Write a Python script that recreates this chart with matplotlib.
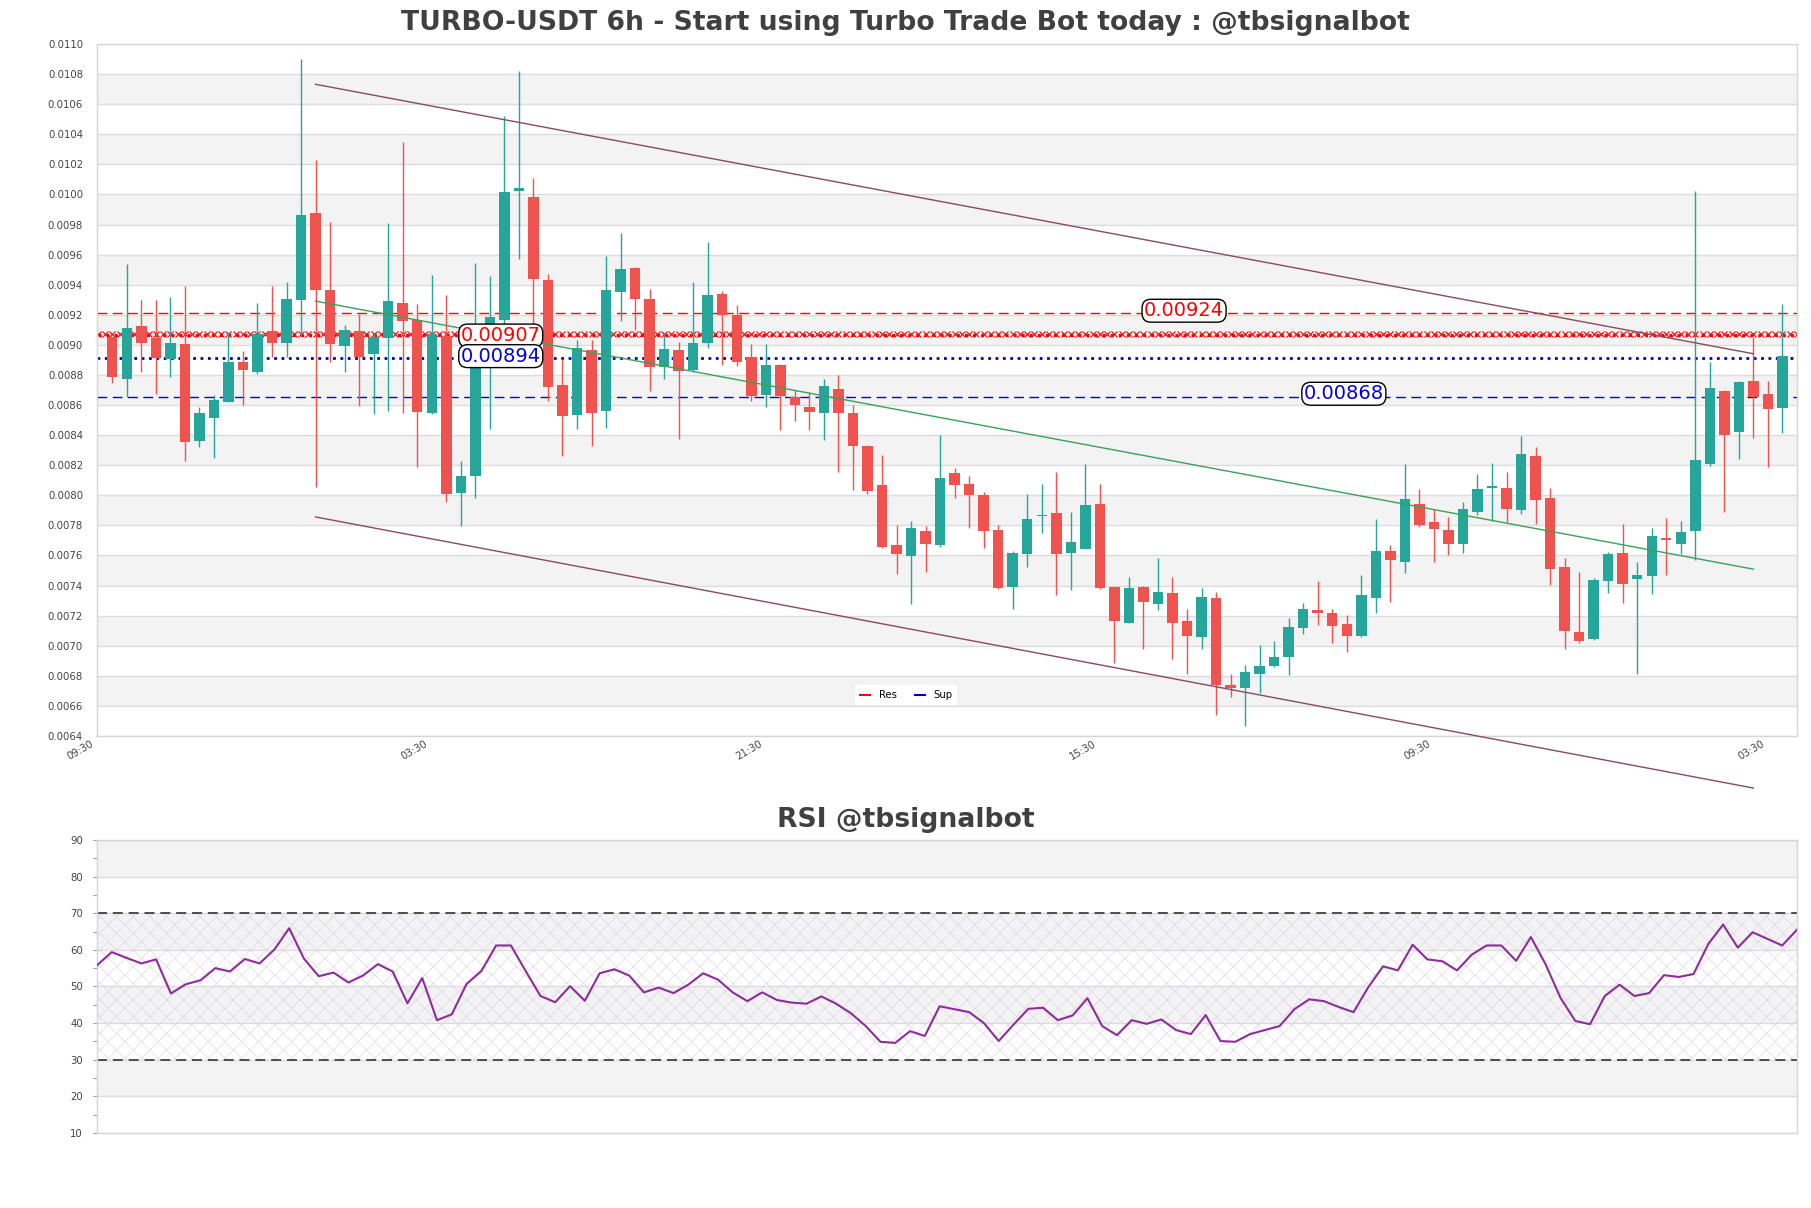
import numpy as np
import matplotlib
matplotlib.use('Agg')
import matplotlib.pyplot as plt
from matplotlib.lines import Line2D
from matplotlib.transforms import ScaledTranslation

# 6h candles
OPEN = [0.009050, 0.008770, 0.009127, 0.009043, 0.008904, 0.009006, 0.008362, 0.008514, 0.008621, 0.008883,
        0.008822, 0.009090, 0.009014, 0.009300, 0.009876, 0.009364, 0.008992, 0.009090, 0.008941, 0.009044,
        0.009276, 0.009163, 0.008548, 0.009059, 0.008014, 0.008130, 0.008867, 0.009166, 0.010025, 0.009980,
        0.009434, 0.008730, 0.008534, 0.008968, 0.008560, 0.009349, 0.009513, 0.009306, 0.008852, 0.008968,
        0.008831, 0.009010, 0.009340, 0.009200, 0.008922, 0.008670, 0.008867, 0.008654, 0.008590, 0.008548,
        0.008709, 0.008548, 0.008325, 0.008066, 0.007667, 0.007597, 0.007765, 0.007670, 0.008149, 0.008075,
        0.008000, 0.007770, 0.007391, 0.007612, 0.007862, 0.007884, 0.007618, 0.007643, 0.007945, 0.007391,
        0.007153, 0.007391, 0.007277, 0.007351, 0.007162, 0.007055, 0.007315, 0.006736, 0.006721, 0.006812,
        0.006864, 0.006925, 0.007116, 0.007238, 0.007217, 0.007143, 0.007064, 0.007320, 0.007628, 0.007558,
        0.007945, 0.007824, 0.007770, 0.007678, 0.007886, 0.008050, 0.008046, 0.007903, 0.008258, 0.007985,
        0.007521, 0.007092, 0.007046, 0.007430, 0.007618, 0.007445, 0.007461, 0.007715, 0.007679, 0.007763,
        0.008206, 0.008694, 0.008418, 0.008761, 0.008676, 0.008579]
HIGH = [0.009055, 0.009539, 0.009300, 0.009300, 0.009315, 0.009391, 0.008584, 0.008670, 0.009080, 0.008960,
        0.009276, 0.009391, 0.009416, 0.010900, 0.010232, 0.009818, 0.009130, 0.009203, 0.009080, 0.009812,
        0.010351, 0.009270, 0.009462, 0.009331, 0.008228, 0.009544, 0.009455, 0.010522, 0.010823, 0.010107,
        0.009470, 0.008904, 0.009035, 0.009035, 0.009593, 0.009745, 0.009520, 0.009370, 0.009080, 0.009020,
        0.009416, 0.009684, 0.009360, 0.009263, 0.009005, 0.009005, 0.008870, 0.008700, 0.008685, 0.008770,
        0.008800, 0.008600, 0.008335, 0.008267, 0.007800, 0.007826, 0.007795, 0.008404, 0.008180, 0.008131,
        0.008020, 0.007800, 0.007630, 0.008006, 0.008076, 0.008158, 0.007887, 0.008206, 0.008076, 0.007400,
        0.007458, 0.007400, 0.007582, 0.007460, 0.007247, 0.007382, 0.007360, 0.006812, 0.006870, 0.007003,
        0.007033, 0.007186, 0.007284, 0.007430, 0.007247, 0.007207, 0.007467, 0.007840, 0.007670, 0.008206,
        0.008040, 0.007910, 0.007855, 0.007954, 0.008140, 0.008212, 0.008158, 0.008394, 0.008319, 0.008046,
        0.007582, 0.007488, 0.007452, 0.007625, 0.007806, 0.007558, 0.007785, 0.007847, 0.007830, 0.010025,
        0.008883, 0.008700, 0.008761, 0.009055, 0.008761, 0.009273]
LOW = [0.008746, 0.008655, 0.008822, 0.008676, 0.008785, 0.008227, 0.008319, 0.008249, 0.008620, 0.008600,
       0.008807, 0.008922, 0.008922, 0.009065, 0.008057, 0.008883, 0.008822, 0.008593, 0.008539, 0.008563,
       0.008548, 0.008188, 0.008540, 0.007954, 0.007795, 0.007979, 0.008441, 0.009127, 0.009568, 0.009110,
       0.008630, 0.008264, 0.008441, 0.008325, 0.008447, 0.009157, 0.009096, 0.008694, 0.008776, 0.008371,
       0.008820, 0.008982, 0.008867, 0.008860, 0.008624, 0.008587, 0.008435, 0.008496, 0.008432, 0.008365,
       0.008158, 0.008036, 0.008010, 0.007650, 0.007475, 0.007277, 0.007490, 0.007658, 0.007985, 0.007785,
       0.007649, 0.007375, 0.007246, 0.007521, 0.007748, 0.007339, 0.007370, 0.007640, 0.007380, 0.006888,
       0.007150, 0.006979, 0.007238, 0.006912, 0.006812, 0.006979, 0.006537, 0.006660, 0.006467, 0.006688,
       0.006860, 0.006806, 0.007077, 0.007140, 0.007015, 0.006957, 0.007060, 0.007217, 0.007293, 0.007481,
       0.007786, 0.007558, 0.007600, 0.007618, 0.007870, 0.007832, 0.007824, 0.007876, 0.007809, 0.007406,
       0.006979, 0.007015, 0.007040, 0.007351, 0.007284, 0.006812, 0.007345, 0.007467, 0.007609, 0.007573,
       0.008197, 0.007891, 0.008243, 0.008382, 0.008188, 0.008412]
CLOSE = [0.008785, 0.009114, 0.009014, 0.008916, 0.009014, 0.008353, 0.008545, 0.008636, 0.008883, 0.008831,
         0.009074, 0.009014, 0.009306, 0.009864, 0.009364, 0.009005, 0.009102, 0.008922, 0.009050, 0.009294,
         0.009157, 0.008554, 0.009074, 0.008008, 0.008130, 0.008867, 0.009187, 0.010019, 0.010040, 0.009437,
         0.008721, 0.008528, 0.008980, 0.008549, 0.009367, 0.009507, 0.009303, 0.008852, 0.008974, 0.008825,
         0.009014, 0.009334, 0.009197, 0.008889, 0.008663, 0.008867, 0.008663, 0.008600, 0.008557, 0.008724,
         0.008548, 0.008328, 0.008030, 0.007655, 0.007612, 0.007780, 0.007679, 0.008118, 0.008069, 0.008000,
         0.007763, 0.007385, 0.007618, 0.007840, 0.007872, 0.007612, 0.007688, 0.007933, 0.007385, 0.007162,
         0.007382, 0.007293, 0.007357, 0.007153, 0.007064, 0.007321, 0.006736, 0.006721, 0.006827, 0.006867,
         0.006925, 0.007125, 0.007244, 0.007217, 0.007131, 0.007064, 0.007336, 0.007628, 0.007573, 0.007975,
         0.007801, 0.007776, 0.007673, 0.007909, 0.008045, 0.008060, 0.007909, 0.008273, 0.007970, 0.007512,
         0.007095, 0.007030, 0.007437, 0.007612, 0.007412, 0.007473, 0.007730, 0.007700, 0.007756, 0.008236,
         0.008715, 0.008400, 0.008755, 0.008655, 0.008573, 0.008923]

RSI = [55.8, 59.4, 57.8, 56.3, 57.4, 48.1, 50.6, 51.7, 55.0, 54.1,
       57.5, 56.3, 60.1, 65.9, 57.6, 52.8, 53.8, 51.1, 53.0, 56.1,
       54.1, 45.4, 52.3, 40.8, 42.4, 50.7, 54.2, 61.2, 61.2, 54.2,
       47.4, 45.7, 50.1, 46.1, 53.6, 54.7, 53.0, 48.4, 49.7, 48.2,
       50.5, 53.6, 51.9, 48.4, 46.0, 48.4, 46.3, 45.6, 45.3, 47.3,
       45.3, 42.7, 39.2, 34.9, 34.6, 37.8, 36.5, 44.6, 43.8, 43.0,
       40.0, 35.1, 39.6, 43.9, 44.2, 40.8, 42.1, 46.8, 39.2, 36.7,
       40.8, 39.8, 41.0, 38.1, 37.0, 42.2, 35.1, 34.9, 37.0, 38.1,
       39.2, 43.8, 46.5, 46.0, 44.4, 43.0, 49.8, 55.5, 54.4, 61.4,
       57.4, 56.9, 54.4, 58.7, 61.2, 61.2, 57.0, 63.5, 56.0, 46.9,
       40.6, 39.7, 47.4, 50.5, 47.4, 48.2, 53.1, 52.6, 53.4, 61.6,
       66.9, 60.6, 64.8, 63.0, 61.2, 65.5]

X_TICK_POS = [-1, 22, 45, 68, 91, 114]
X_TICK_LABELS = ['09:30', '03:30', '21:30', '15:30', '09:30', '03:30']

RES_DASHED = 0.009212
RES_MARKED = 0.009065
SUP_DOTTED = 0.008916
SUP_DASHED = 0.008654

LEVEL_TEXT = ['0.00924', '0.00907', '0.00894', '0.00868']
LEVEL_TEXT_X = [73.8, 26.75, 26.75, 84.8]
LEVEL_TEXT_Y = [0.009227, 0.009062, 0.008925, 0.008675]
LEVEL_TEXT_COLOR = ['red', 'red', '#0000dd', '#0000dd']

CHANNEL_X = [14, 113]
CHANNEL_UPPER = [0.010732, 0.008941]
CHANNEL_LOWER = [0.007856, 0.006054]
TREND_MID = [0.009291, 0.007509]

COLOR_UP = '#26a69a'
COLOR_DOWN = '#ef5350'
BAND_COLOR = '#f3f3f3'
GRID_COLOR = '#dcdcdc'
SPINE_COLOR = '#d6d6d6'
TEXT_COLOR = '#444444'
TITLE_COLOR = '#404040'


def style_axes(ax):
  for s in ax.spines.values():
    s.set_color(SPINE_COLOR)
    s.set_linewidth(1.0)
  ax.set_facecolor('white')


def draw_bands(ax, lo, hi, step):
  # shade every other tick interval, grid line on each tick
  edges = np.arange(lo, hi + step / 2, step)
  for k in range(1, len(edges) - 1, 2):
    ax.axhspan(edges[k], edges[k + 1], color=BAND_COLOR, lw=0, zorder=0)
  for e in edges:
    ax.axhline(e, color=GRID_COLOR, lw=1.0, zorder=0.5)


fig = plt.figure(figsize=(18.11, 12.08), dpi=100)
ax = fig.add_axes([0.05356, 0.39073, 0.9387, 0.57285])
ax2 = fig.add_axes([0.05356, 0.06209, 0.9387, 0.24255])

# ---- price panel
style_axes(ax)
draw_bands(ax, 0.0064, 0.0110, 0.0002)

o = np.array(OPEN)
h = np.array(HIGH)
l = np.array(LOW)
c = np.array(CLOSE)
x = np.arange(len(o))
cols = np.where(c >= o, COLOR_UP, COLOR_DOWN)
ax.vlines(x, l, h, colors=cols, lw=1.0, zorder=3)
body_bottom = np.minimum(o, c)
body_height = np.maximum(np.abs(c - o), 0.0000035)
ax.bar(x, body_height, width=0.72, bottom=body_bottom, color=cols, lw=0, zorder=4)

ax.axhline(RES_DASHED, color='red', lw=1.0, ls=(0, (7, 4)), zorder=2)
xs = np.linspace(-1, 116, 235)
ax.plot(xs, np.full_like(xs, RES_MARKED), color='red', lw=2.2, ls=':', zorder=2)
ax.plot(xs, np.full_like(xs, RES_MARKED) + 0.0000045, color='red', lw=0,
        marker='x', ms=4.5, mew=0.8, zorder=2)
ax.axhline(SUP_DOTTED, color='#0000cc', lw=2.0, ls=':', zorder=2)
ax.axhline(SUP_DASHED, color='#0000dd', lw=1.0, ls=(0, (7, 4)), zorder=2)

ax.plot(CHANNEL_X, CHANNEL_UPPER, color='#8a4a5c', lw=1.0, zorder=5, clip_on=False)
ax.plot(CHANNEL_X, CHANNEL_LOWER, color='#8a4a5c', lw=1.0, zorder=5, clip_on=False)
ax.plot(CHANNEL_X, TREND_MID, color='#3aa15a', lw=1.0, zorder=5)

for txt, tx, ty, tc in zip(LEVEL_TEXT, LEVEL_TEXT_X, LEVEL_TEXT_Y, LEVEL_TEXT_COLOR):
  ax.text(tx, ty, txt, color=tc, fontsize=14, ha='center', va='center', zorder=6,
          bbox=dict(boxstyle='round,pad=0.1,rounding_size=0.45', fc='white', ec='black', lw=1.0))

handles = [Line2D([0], [0], color='red', lw=1.5), Line2D([0], [0], color='#0000aa', lw=1.5)]
leg = ax.legend(handles, ['Res', 'Sup'], loc='lower center', bbox_to_anchor=(0.476, 0.037),
                ncol=2, fontsize=7.3, frameon=True, handlelength=1.0, columnspacing=1.8,
                borderpad=0.5)
leg.get_frame().set_edgecolor('none')
leg.get_frame().set_facecolor('white')
leg.get_frame().set_alpha(1.0)

ax.set_xlim(-1.05, 116.0)
ax.set_ylim(0.0064, 0.0110)
ax.set_yticks(np.arange(0.0064, 0.01101, 0.0002))
ax.set_yticklabels(['%.4f' % v for v in np.arange(0.0064, 0.01101, 0.0002)])
ax.set_xticks(X_TICK_POS)
ax.set_xticklabels(X_TICK_LABELS)
ax.tick_params(axis='y', length=0, pad=10, labelsize=7.3, labelcolor=TEXT_COLOR)
ax.tick_params(axis='x', length=0, pad=2, labelsize=7.3, labelcolor=TEXT_COLOR)
shift = ScaledTranslation(-0.07, 0.0, fig.dpi_scale_trans)
for lab in ax.get_xticklabels():
  lab.set_rotation(30)
  lab.set_ha('right')
  lab.set_rotation_mode('anchor')
  lab.set_transform(lab.get_transform() + shift)

# ---- RSI panel
style_axes(ax2)
draw_bands(ax2, 10, 90, 10)
xr = np.arange(len(RSI))
plt.rcParams['hatch.linewidth'] = 0.4
ax2.fill_between([0, len(RSI) - 1], 30, 70, facecolor='none', hatch='xx',
                 edgecolor='#dcd0e2', lw=0, zorder=1)
ax2.axhline(70, color='#333333', lw=1.2, ls=(0, (6, 3.5)), zorder=2)
ax2.axhline(30, color='#333333', lw=1.2, ls=(0, (6, 3.5)), zorder=2)
ax2.plot(xr, RSI, color='#8e2c9c', lw=1.5, zorder=3)
ax2.set_xlim(0, len(RSI) - 1)
ax2.set_ylim(10, 90)
ax2.set_xticks([])
ax2.set_yticks(range(10, 91, 10))
ax2.set_yticks(range(15, 90, 10), minor=True)
ax2.tick_params(axis='y', which='both', length=3, width=0.8, color='#999999', pad=7,
                labelsize=7.3, labelcolor=TEXT_COLOR)

fig.text(0.5, 1 - 23 / 1208, 'TURBO-USDT 6h - Start using Turbo Trade Bot today : @tbsignalbot',
         ha='center', va='center', fontsize=19.2, fontweight='bold', color=TITLE_COLOR)
fig.text(0.5, 1 - 820 / 1208, 'RSI @tbsignalbot', ha='center', va='center',
         fontsize=19.2, fontweight='bold', color=TITLE_COLOR)

fig.savefig('out.png', dpi=100, facecolor='white')
